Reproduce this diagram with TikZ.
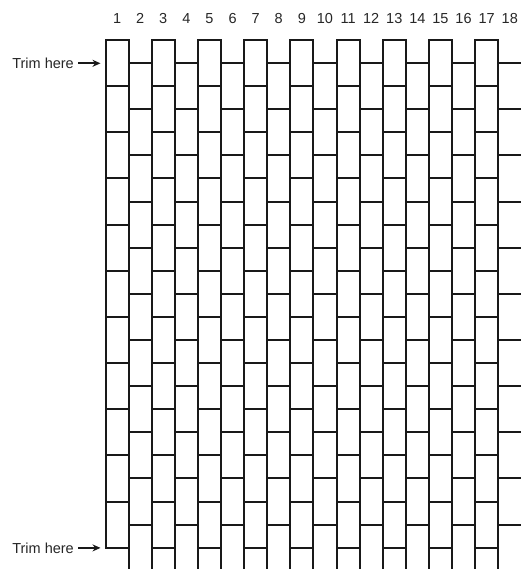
\documentclass[tikz,border=0pt]{standalone}
\usepackage{fontspec}
\setmainfont{Liberation Sans}
\usetikzlibrary{arrows.meta}
\begin{document}
\begin{tikzpicture}[x=1pt,y=-1pt,
  grid/.style={line width=2pt, line cap=rect, black!90},
  num/.style={font=\fontsize{14.5}{16}\selectfont, inner sep=0pt, text=black!85},
  trim/.style={font=\fontsize{14.5}{16}\selectfont, inner sep=0pt, anchor=east, text=black!85},
  trimarrow/.style={line width=1.8pt, black!90, -{Stealth[length=8pt,width=7pt]}}]
\useasboundingbox (0,0) rectangle (520,569);
\pgfmathsetmacro{\xo}{105.5}
\pgfmathsetmacro{\cw}{23.1}
\pgfmathsetmacro{\rh}{46.15}
% vertical lines
\draw[grid] (\xo,40) -- (\xo,547.7);
\foreach \k in {1,...,17}{
  \draw[grid] ({\xo+\k*\cw},40) -- ({\xo+\k*\cw},575);
}
% horizontal lines, odd columns
\foreach \k in {1,3,...,17}{
  \foreach \j in {0,...,11}{
    \draw[grid] ({\xo+(\k-1)*\cw},{40+\j*\rh}) -- ({\xo+\k*\cw},{40+\j*\rh});
  }
}
% horizontal lines, even columns
\foreach \k in {2,4,...,18}{
  \foreach \j in {0,...,10}{
    \draw[grid] ({\xo+(\k-1)*\cw},{63.08+\j*\rh}) -- ({\xo+\k*\cw},{63.08+\j*\rh});
  }
}
% column numbers
\foreach \k in {1,...,18}{
  \node[num] (n\k) at ({\xo+(\k-0.5)*\cw},18.5) {\k};
}
% trim labels
\node[trim] (t1) at (74,63.3) {Trim here};
\coordinate (t1e) at (100.5,63.3);
\draw[trimarrow] ([xshift=4pt]t1.east) -- (t1e);
\node[trim] (t2) at (74,547.9) {Trim here};
\coordinate (t2e) at (100.5,547.9);
\draw[trimarrow] ([xshift=4pt]t2.east) -- (t2e);
\end{tikzpicture}
\end{document}
